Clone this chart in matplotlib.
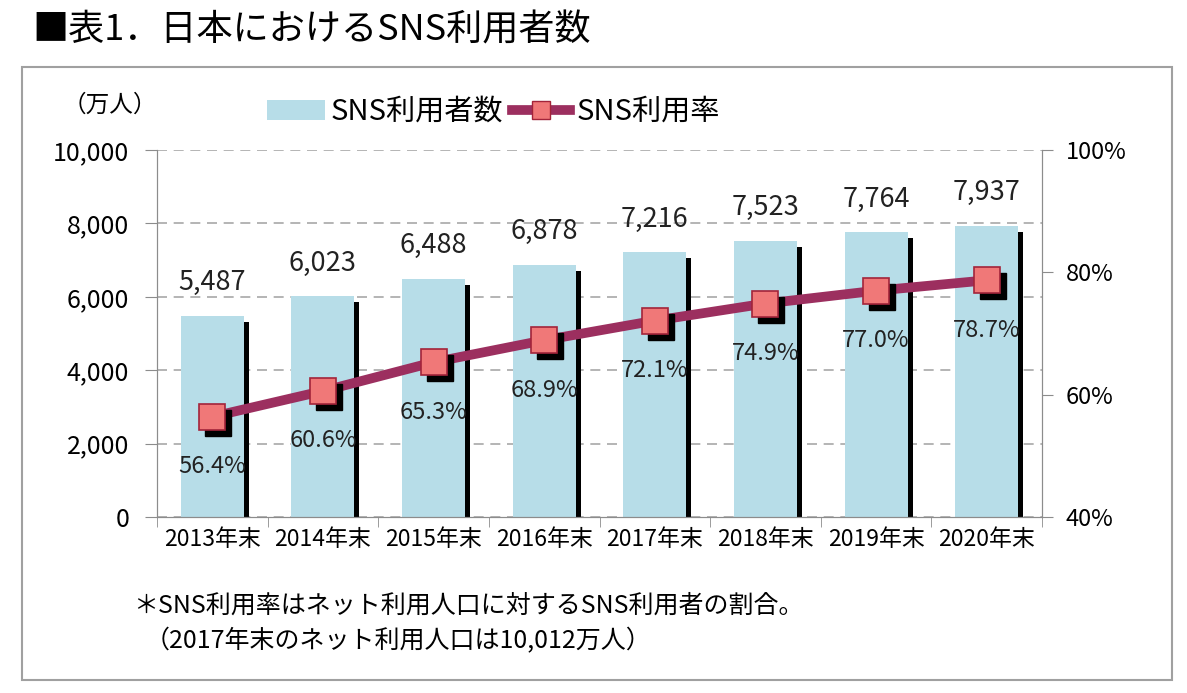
import numpy as np
import matplotlib
matplotlib.use('Agg')
import matplotlib.pyplot as plt
import matplotlib.transforms as mtransforms
from matplotlib.patches import Rectangle, Patch
from matplotlib.lines import Line2D
from matplotlib.ticker import FuncFormatter, FixedLocator

plt.rcParams['font.family'] = ['Noto Sans CJK JP', 'DejaVu Sans']

# データ
years = ['2013年末', '2014年末', '2015年末', '2016年末', '2017年末', '2018年末', '2019年末', '2020年末']
users = [5487, 6023, 6488, 6878, 7216, 7523, 7764, 7937]   # 万人
rates = [56.4, 60.6, 65.3, 68.9, 72.1, 74.9, 77.0, 78.7]   # %

COR_BARRA = '#b7dde8'
COR_LINHA = '#9c2f5f'
COR_MARCA = '#f07878'
COR_BORDA_MARCA = '#a3243a'
COR_EIXO = '#8c8c8c'

W, H = 1187, 693
fig = plt.figure(figsize=(W / 100, H / 100), dpi=100)

# moldura do gráfico
fig.patches.append(Rectangle((22 / W, 1 - 680 / H), 1150 / W, 613 / H, transform=fig.transFigure,
                             fill=False, edgecolor='#a0a0a0', linewidth=1.5))

fig.text(32 / W, 1 - 31 / H, '■表1．日本におけるSNS利用者数', fontsize=26, va='center', ha='left')

ax = fig.add_axes([157 / W, 1 - 517 / H, 885 / W, 367 / H])
ax2 = ax.twinx()

x = np.arange(len(years))
largura = 0.57
ax.bar(x, users, width=largura, color=COR_BARRA, zorder=2)
# sombra preta à direita das barras
sombra = 0.045
ax.bar(x + largura / 2 + sombra / 2, np.array(users) - 170, width=sombra, color='black', zorder=2)

for xi, v in zip(x, users):
    ax.annotate(f'{v:,}', (xi, v), xytext=(0, 33), textcoords='offset pixels',
                ha='center', va='center', fontsize=19.5, color='#222222')

ax.set_xlim(-0.5, len(years) - 0.5)
ax.set_ylim(0, 10000)
ax.set_yticks(np.arange(0, 10001, 2000))
ax.yaxis.set_major_formatter(FuncFormatter(lambda v, p: f'{int(v):,}'))
ax.set_xticks(x)
ax.set_xticklabels(years, fontsize=16.5)
ax.xaxis.set_minor_locator(FixedLocator(np.arange(-0.5, len(years), 1.0)))
ax.tick_params(axis='x', which='major', length=0, pad=8)
ax.tick_params(axis='x', which='minor', length=7, color=COR_EIXO, direction='out')
ax.tick_params(axis='y', length=9, color=COR_EIXO, labelsize=18, pad=11)
ax.grid(axis='y', linestyle=(0, (6, 4)), color='#a8a8a8', linewidth=1.2, zorder=0)
ax.set_axisbelow(True)

for lado in ['left', 'bottom', 'right']:
    ax.spines[lado].set_color(COR_EIXO)
    ax2.spines[lado].set_color(COR_EIXO)
ax.spines['top'].set_visible(False)
ax2.spines['top'].set_visible(False)

# linha de taxa
ax2.set_ylim(40, 100)
ax2.set_yticks([40, 60, 80, 100])
ax2.yaxis.set_major_formatter(FuncFormatter(lambda v, p: f'{int(v)}%'))
ax2.tick_params(axis='y', length=8, color=COR_EIXO, labelsize=17, pad=9)

desloc = mtransforms.offset_copy(ax2.transData, fig=fig, x=6, y=-6, units='dots')
ax2.plot(x, rates, linestyle='none', marker='s', markersize=19, color='black', transform=desloc, zorder=3)
ax2.plot(x, rates, color=COR_LINHA, linewidth=7, zorder=2)
ax2.plot(x, rates, linestyle='none', marker='s', markersize=19, markerfacecolor=COR_MARCA,
         markeredgecolor=COR_BORDA_MARCA, markeredgewidth=1.2, zorder=4)

for xi, r in zip(x, rates):
    ax2.annotate(f'{r:.1f}%', (xi, r), xytext=(0, -50), textcoords='offset pixels',
                 ha='center', va='center', fontsize=17, color='#222222', zorder=5)

# legenda
h_barra = Patch(facecolor=COR_BARRA, edgecolor='none')
h_linha = Line2D([], [], color=COR_LINHA, linewidth=7, marker='s', markersize=13,
                 markerfacecolor=COR_MARCA, markeredgecolor=COR_BORDA_MARCA)
fig.legend([h_barra, h_linha], ['SNS利用者数', 'SNS利用率'], loc='center left',
           bbox_to_anchor=(252 / W, 1 - 112 / H), ncol=2, frameon=False, fontsize=21,
           handlelength=2.0, handletextpad=0.2, columnspacing=0.3, borderpad=0)

fig.text(63 / W, 1 - 105 / H, '（万人）', fontsize=17, va='center', ha='left')

fig.text(133 / W, 1 - 606 / H, '＊SNS利用率はネット利用人口に対するSNS利用者の割合。', fontsize=18,
         va='center', ha='left')
fig.text(145 / W, 1 - 641 / H, '（2017年末のネット利用人口は10,012万人）', fontsize=18,
         va='center', ha='left')

fig.savefig('out.png', dpi=100)
